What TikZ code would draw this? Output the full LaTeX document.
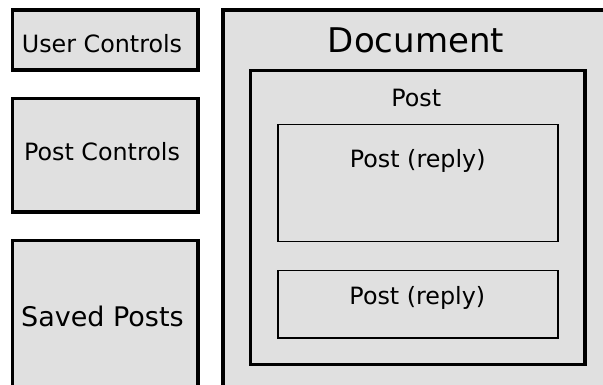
\documentclass[tikz,border=0pt]{standalone}
\usepackage{fontspec}
\setmainfont{DejaVu Sans}
\usetikzlibrary{positioning}
\definecolor{cPane}{HTML}{E0E0E0}

\begin{document}
\begin{tikzpicture}[
  x=1pt, y=1pt,
  pane/.style={draw, fill=cPane, line width=3.2pt, inner sep=0pt},
  sub/.style={pane, line width=1.3pt},
  lbl/.style={anchor=base, inner sep=0pt, font=\fontsize{23.8}{28}\selectfont},
  big/.style={lbl, font=\fontsize{27}{32}\selectfont},
  hdr/.style={lbl, font=\fontsize{34}{40}\selectfont}
]
\useasboundingbox (0,0) rectangle (603,-385);
\clip (0,0) rectangle (603,-385);

% SIDEBAR
\node[pane, minimum width=185.5, minimum height=60] (user) at (105.25,-40) {};
\node[pane, minimum width=185.5, minimum height=113.5] (pctl) at (105.25,-155.25) {};
\node[pane, minimum width=185.5, minimum height=155] (saved) at (105.25,-317.8) {};
\node[lbl] (userTxt) at (102,-52.3) {User Controls};
\node[lbl] (pctlTxt) at (102,-160.7) {Post Controls};
\node[big] (savedTxt) at (102.4,-326) {Saved Posts};

% DOCUMENT
\node[pane, minimum width=397, minimum height=390] (doc) at (421.5,-205) {};
\node[hdr] (docTxt) at (416,-52.3) {Document};

% POST WITH REPLIES
\node[pane, minimum width=334.7, minimum height=294] (post) at (417.65,-217.3) {};
\node[lbl] (postTxt) at (416.3,-106.7) {Post};
\node[sub, minimum width=280, minimum height=117] (rep1) at (418,-183) {};
\node[lbl] (rep1Txt) at (417.7,-167.3) {Post (reply)};
\node[sub, minimum width=280, minimum height=67.5] (rep2) at (418,-304.25) {};
\node[lbl] (rep2Txt) at (417.3,-304) {Post (reply)};

\end{tikzpicture}
\end{document}
